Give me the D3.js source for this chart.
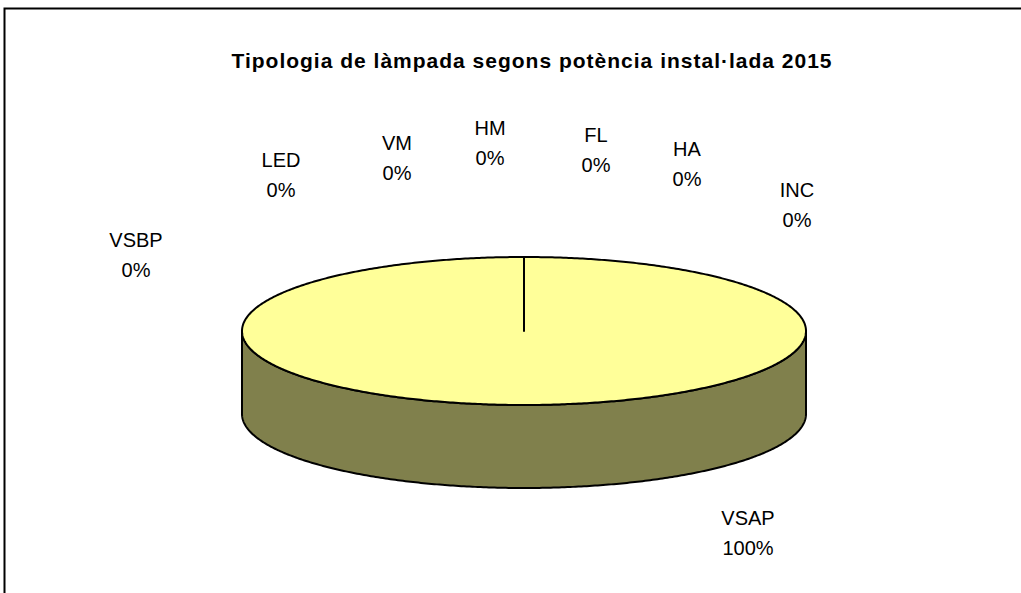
<!DOCTYPE html>
<html>
<head>
<meta charset="utf-8">
<script src="https://cdn.jsdelivr.net/npm/d3@7"></script>
<style>
  html, body { margin: 0; padding: 0; background: #fff; }
  svg { display: block; }
</style>
</head>
<body>
<svg id="chart" width="1021" height="593"></svg>
<script>
// ---- data ----
const title = "Tipologia de làmpada segons potència instal·lada 2015";
const categories = ["VSAP", "VSBP", "LED", "VM", "HM", "FL", "HA", "INC"];
const values = [100, 0, 0, 0, 0, 0, 0, 0];
const percentLabels = ["100%", "0%", "0%", "0%", "0%", "0%", "0%", "0%"];

// ---- layout (not data) ----
const W = 1021, H = 593;
const cx = 524, cy = 331, rx = 282, ry = 74, depth = 83;
// label offsets from pie centre (Excel's de-overlapped label placement)
const labelOffsets = [[224, 194], [-388, -84], [-243, -164], [-127, -181], [-34, -196], [72, -189], [163, -175], [273, -134]];
const topColor = "#FFFF99", sideColor = "#80804C";

const svg = d3.select("#chart");

// frame
svg.append("rect")
  .attr("x", 4.5).attr("y", 8.5)
  .attr("width", W + 20).attr("height", H + 20)
  .attr("fill", "#fff").attr("stroke", "#000").attr("stroke-width", 2);

// title
svg.append("text")
  .attr("x", 532).attr("y", 68)
  .attr("text-anchor", "middle")
  .attr("font-family", "Liberation Sans, Arial, sans-serif")
  .attr("font-weight", "bold")
  .attr("font-size", 21)
  .attr("letter-spacing", 1)
  .text(title);

const pie = d3.pie().sort(null).value(d => d);
const arcs = pie(values);

// angle -> scales for projected ellipse
const sx = d3.scaleLinear().domain([-1, 1]).range([cx - rx, cx + rx]);
const sy = d3.scaleLinear().domain([-1, 1]).range([cy - ry, cy + ry]);
const pt = (a, dz = 0) => [sx(Math.sin(a)), sy(-Math.cos(a)) + dz];

function topPath(a0, a1) {
  const n = Math.max(2, Math.ceil((a1 - a0) / 0.01));
  const pts = d3.range(n + 1).map(i => pt(a0 + (a1 - a0) * i / n));
  return "M" + cx + "," + cy + "L" + pts.map(p => p.join(",")).join("L") + "Z";
}
function sidePath(a0, a1) {
  const s = Math.max(a0, Math.PI / 2), e = Math.min(a1, 3 * Math.PI / 2);
  if (e <= s) return null;
  const n = Math.max(2, Math.ceil((e - s) / 0.01));
  const topPts = d3.range(n + 1).map(i => pt(s + (e - s) * i / n));
  const botPts = topPts.map(p => [p[0], p[1] + depth]).reverse();
  return "M" + topPts.concat(botPts).map(p => p.join(",")).join("L") + "Z";
}

const g = svg.append("g");
// sides
arcs.forEach(d => {
  if (d.endAngle - d.startAngle <= 0) return;
  const p = sidePath(d.startAngle, d.endAngle);
  if (p) g.append("path").attr("d", p)
    .attr("fill", sideColor).attr("stroke", "#000").attr("stroke-width", 2)
    .attr("stroke-linejoin", "round");
});
// tops
arcs.forEach(d => {
  if (d.endAngle - d.startAngle <= 0) return;
  g.append("path").attr("d", topPath(d.startAngle, d.endAngle))
    .attr("fill", topColor).attr("stroke", "#000").attr("stroke-width", 2)
    .attr("stroke-linejoin", "round");
});

// labels
const lab = svg.append("g")
  .attr("font-family", "Liberation Sans, Arial, sans-serif")
  .attr("font-size", 20)
  .attr("text-anchor", "middle")
  .attr("fill", "#000");
categories.forEach((c, i) => {
  const [dx, dy] = labelOffsets[i];
  const t = lab.append("text").attr("transform", `translate(${cx + dx},${cy + dy})`);
  t.append("tspan").attr("x", 0).attr("y", 0).text(c);
  t.append("tspan").attr("x", 0).attr("y", 30).text(percentLabels[i]);
});
</script>
</body>
</html>
